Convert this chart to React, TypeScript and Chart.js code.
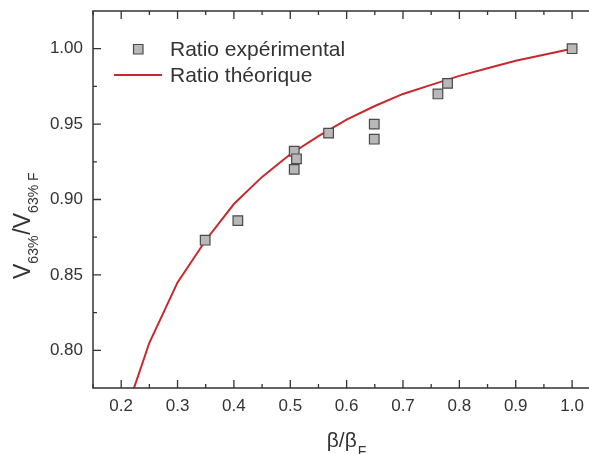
import React, { useEffect, useRef } from "react";
import { Chart, registerables } from "chart.js";

Chart.register(...registerables);

const xTickValues = [0.2, 0.3, 0.4, 0.5, 0.6, 0.7, 0.8, 0.9, 1.0];
const yTickValues = [0.8, 0.85, 0.9, 0.95, 1.0];

const expX = [0.349, 0.407, 0.507, 0.511, 0.507, 0.568, 0.649, 0.649, 0.762, 0.779, 1.0];
const expY = [0.873, 0.886, 0.932, 0.927, 0.92, 0.944, 0.95, 0.94, 0.97, 0.977, 1.0];

const theoX = [0.2, 0.25, 0.3, 0.35, 0.4, 0.45, 0.5, 0.55, 0.6, 0.65, 0.7, 0.75, 0.8, 0.85, 0.9, 0.95, 1.0];
const theoY = [0.75, 0.805, 0.845, 0.873, 0.897, 0.915, 0.93, 0.942, 0.953, 0.962, 0.97, 0.976, 0.982, 0.987, 0.992, 0.996, 1.0];

const expLabel = "Ratio expérimental";
const theoLabel = "Ratio théorique";

const FONT = "'Liberation Sans', Arial, sans-serif";
const TEXT = "#333333";
const AXIS = "#333333";
const RED = "#c8282d";
const MARK_FILL = "#b8b8b8";
const MARK_BORDER = "#4a4a4a";

const decorPlugin = {
  id: "decor",
  afterDraw(chart: any) {
    const ctx = chart.ctx as CanvasRenderingContext2D;
    const { left, right, top, bottom } = chart.chartArea;
    const xs = chart.scales.x;
    const ys = chart.scales.y;
    ctx.save();
    ctx.strokeStyle = AXIS;
    ctx.lineWidth = 1.5;
    ctx.beginPath();
    ctx.moveTo(right, top);
    ctx.lineTo(left, top);
    ctx.lineTo(left, bottom);
    ctx.lineTo(right, bottom);
    ctx.stroke();
    ctx.lineWidth = 1.3;
    ctx.beginPath();
    const xStep = 0.1;
    for (let i = 0; i < xTickValues.length; i++) {
      const v = xTickValues[i];
      const px = xs.getPixelForValue(v);
      ctx.moveTo(px, bottom);
      ctx.lineTo(px, bottom - 8);
      ctx.moveTo(px, top);
      ctx.lineTo(px, top + 8);
      const m = v + xStep / 2;
      if (m < xs.max) {
        const pm = xs.getPixelForValue(m);
        ctx.moveTo(pm, bottom);
        ctx.lineTo(pm, bottom - 4);
        ctx.moveTo(pm, top);
        ctx.lineTo(pm, top + 4);
      }
      if (i === 0) {
        const m0 = v - xStep / 2;
        if (m0 > xs.min) {
          const p0 = xs.getPixelForValue(m0);
          ctx.moveTo(p0, bottom);
          ctx.lineTo(p0, bottom - 4);
          ctx.moveTo(p0, top);
          ctx.lineTo(p0, top + 4);
        }
      }
    }
    const yStep = 0.05;
    for (let i = 0; i < yTickValues.length; i++) {
      const v = yTickValues[i];
      const py = ys.getPixelForValue(v);
      ctx.moveTo(left, py);
      ctx.lineTo(left + 8, py);
      const m = v + yStep / 2;
      if (m < ys.max) {
        const pm = ys.getPixelForValue(m);
        ctx.moveTo(left, pm);
        ctx.lineTo(left + 4, pm);
      }
      if (i === 0) {
        const m0 = v - yStep / 2;
        if (m0 > ys.min) {
          const p0 = ys.getPixelForValue(m0);
          ctx.moveTo(left, p0);
          ctx.lineTo(left + 4, p0);
        }
      }
    }
    ctx.stroke();

    // legend
    ctx.fillStyle = MARK_FILL;
    ctx.strokeStyle = MARK_BORDER;
    ctx.lineWidth = 1.2;
    ctx.beginPath();
    ctx.rect(133.5, 44.5, 9.5, 9.5);
    ctx.fill();
    ctx.stroke();
    ctx.strokeStyle = RED;
    ctx.lineWidth = 2;
    ctx.beginPath();
    ctx.moveTo(114, 75);
    ctx.lineTo(162, 75);
    ctx.stroke();
    ctx.fillStyle = TEXT;
    ctx.font = `21px ${FONT}`;
    ctx.textBaseline = "alphabetic";
    ctx.textAlign = "left";
    ctx.fillText(expLabel, 170, 56);
    ctx.fillText(theoLabel, 170, 82);

    // x title
    ctx.font = `21px ${FONT}`;
    const xt = "β/β";
    const xw = ctx.measureText(xt).width;
    ctx.font = `14px ${FONT}`;
    const sw = ctx.measureText("F").width;
    const startX = 346 - (xw + sw) / 2;
    ctx.font = `21px ${FONT}`;
    ctx.fillText(xt, startX, 447);
    ctx.font = `14px ${FONT}`;
    ctx.fillText("F", startX + xw + 1, 456);

    // y title (rotated)
    ctx.translate(30, 279);
    ctx.rotate(-Math.PI / 2);
    const parts: [string, number, number][] = [
      ["V", 23, 0],
      ["63%", 14, 8],
      ["/V", 23, 0],
      ["63% F", 14, 8],
    ];
    let cx = 0;
    for (const [t, size, dy] of parts) {
      ctx.font = `${size}px ${FONT}`;
      ctx.fillText(t, cx, dy);
      cx += ctx.measureText(t).width + (size < 20 ? 1 : 0);
    }
    ctx.restore();
  },
};

export default function App() {
  const ref = useRef<HTMLCanvasElement | null>(null);
  useEffect(() => {
    document.body.style.margin = "0";
    const canvas = ref.current;
    if (!canvas) return;
    const chart = new Chart(canvas, {
      type: "scatter",
      data: {
        datasets: [
          {
            label: expLabel,
            data: expX.map((x, i) => ({ x, y: expY[i] })),
            pointStyle: "rect",
            pointRadius: 6.8,
            backgroundColor: MARK_FILL,
            borderColor: MARK_BORDER,
            borderWidth: 1.2,
            showLine: false,
            order: 0,
          },
          {
            type: "line",
            label: theoLabel,
            data: theoX.map((x, i) => ({ x, y: theoY[i] })),
            borderColor: RED,
            borderWidth: 2,
            pointRadius: 0,
            fill: false,
            tension: 0,
            showLine: true,
            order: 1,
          },
        ],
      } as any,
      options: {
        responsive: false,
        animation: false,
        maintainAspectRatio: false,
        layout: { autoPadding: false, padding: { top: 11, right: 0, left: 0, bottom: 0 } },
        plugins: {
          legend: { display: false },
          tooltip: { enabled: false },
          title: { display: false },
        },
        scales: {
          x: {
            type: "linear",
            min: 0.15,
            max: 1.03,
            grid: { display: false, drawTicks: false },
            border: { display: false },
            ticks: {
              color: TEXT,
              font: { family: FONT, size: 17 },
              padding: 8,
              maxRotation: 0,
              autoSkip: false,
              callback: (v: any) => Number(v).toFixed(1),
            },
            afterBuildTicks: (s: any) => {
              s.ticks = xTickValues.map((v) => ({ value: v }));
            },
            afterFit: (s: any) => {
              s.height = 66;
              s.paddingLeft = 0;
              s.paddingRight = 0;
              s.paddingTop = 0;
              s.paddingBottom = 0;
            },
          },
          y: {
            type: "linear",
            min: 0.775,
            max: 1.025,
            grid: { display: false, drawTicks: false },
            border: { display: false },
            ticks: {
              color: TEXT,
              font: { family: FONT, size: 17 },
              padding: 10,
              autoSkip: false,
              callback: (v: any) => Number(v).toFixed(2),
            },
            afterBuildTicks: (s: any) => {
              s.ticks = yTickValues.map((v) => ({ value: v }));
            },
            afterFit: (s: any) => {
              s.width = 93;
              s.paddingLeft = 0;
              s.paddingRight = 0;
              s.paddingTop = 0;
              s.paddingBottom = 0;
            },
          },
        },
      } as any,
      plugins: [decorPlugin],
    });
    return () => chart.destroy();
  }, []);
  return (
    <div style={{ position: "absolute", left: 0, top: 0, width: 589, height: 454, background: "#fff" }}>
      <canvas ref={ref} width={589} height={454} style={{ display: "block" }} />
    </div>
  );
}
